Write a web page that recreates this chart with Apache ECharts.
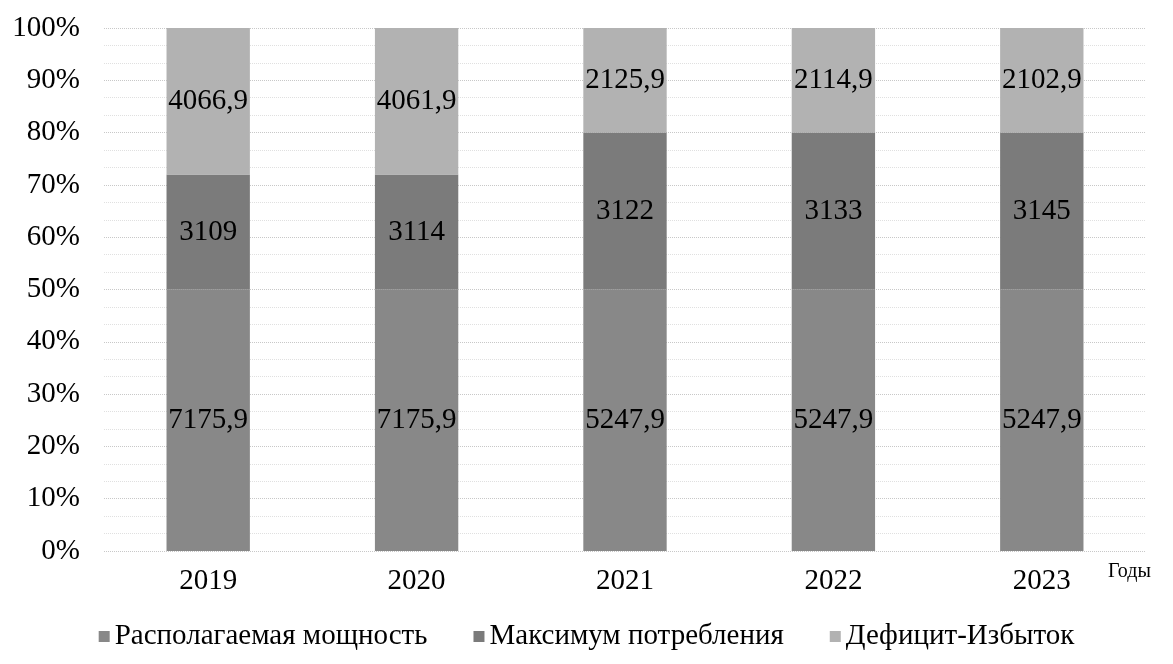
<!DOCTYPE html>
<html>
<head>
<meta charset="utf-8">
<script src="https://cdn.jsdelivr.net/npm/echarts@6/dist/echarts.min.js"></script>
<style>
  html, body { margin: 0; padding: 0; background: #fff; }
  #chart { width: 1173px; height: 664px; }
</style>
</head>
<body>
<div id="chart"></div>
<script>
// годы
const years = ['2019', '2020', '2021', '2022', '2023'];
const seriesNames = ['Располагаемая мощность', 'Максимум потребления', 'Дефицит-Избыток'];

// доли столбцов (%), как нарисовано на картинке
const shareAvailable = [50, 50, 50, 50, 50];
const shareMaxLoad = [22, 22, 30, 30, 30];
const shareBalance = [28, 28, 20, 20, 20];

// подписи значений
const valAvailable = ['7175,9', '7175,9', '5247,9', '5247,9', '5247,9'];
const valMaxLoad = ['3109', '3114', '3122', '3133', '3145'];
const valBalance = ['4066,9', '4061,9', '2125,9', '2114,9', '2102,9'];

const yTicks = [0, 10, 20, 30, 40, 50, 60, 70, 80, 90, 100];

const FONT = '"Liberation Serif", "DejaVu Serif", serif';
const colors = ['#888888', '#7b7b7b', '#b2b2b2'];

const makeSeries = (name, data, labels, color) => ({
  name: name,
  type: 'bar',
  stack: 'total',
  barWidth: '40%',
  data: data,
  itemStyle: { color: color },
  label: {
    show: true,
    position: 'inside',
    fontFamily: FONT,
    fontSize: 29,
    color: '#000',
    formatter: p => labels[p.dataIndex]
  }
});

const chart = echarts.init(document.getElementById('chart'));
chart.setOption({
  animation: false,
  textStyle: { fontFamily: FONT },
  grid: { left: 104, right: 27, top: 28, bottom: 113 },
  legend: {
    bottom: 8,
    left: 'center',
    itemWidth: 11,
    itemHeight: 11,
    itemGap: 46,
    icon: 'rect',
    textStyle: { fontFamily: FONT, fontSize: 29, color: '#000' },
    data: seriesNames
  },
  xAxis: {
    type: 'category',
    data: years,
    axisLine: { show: false },
    axisTick: { show: false },
    axisLabel: { fontFamily: FONT, fontSize: 29, color: '#000', margin: 16 }
  },
  yAxis: {
    type: 'value',
    min: yTicks[0],
    max: yTicks[yTicks.length - 1],
    interval: 10,
    axisLine: { show: false },
    axisTick: { show: false },
    axisLabel: {
      fontFamily: FONT, fontSize: 29, color: '#000', margin: 24,
      formatter: v => v + '%'
    },
    splitLine: { lineStyle: { color: '#c8c8c8', type: 'dotted', width: 1 } },
    minorTick: { show: false, splitNumber: 3 },
    minorSplitLine: { show: true, lineStyle: { color: '#e0e0e0', type: 'dotted', width: 1 } }
  },
  graphic: [{
    type: 'text',
    left: 1108,
    top: 562,
    style: { text: 'Годы', font: '20px ' + FONT, fill: '#000' }
  }],
  series: [
    makeSeries(seriesNames[0], shareAvailable, valAvailable, colors[0]),
    makeSeries(seriesNames[1], shareMaxLoad, valMaxLoad, colors[1]),
    makeSeries(seriesNames[2], shareBalance, valBalance, colors[2])
  ]
});
</script>
</body>
</html>
